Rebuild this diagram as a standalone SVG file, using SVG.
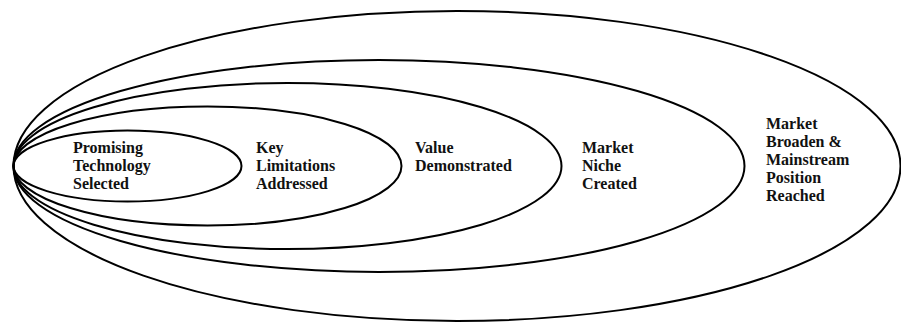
<svg xmlns="http://www.w3.org/2000/svg" width="901" height="323" viewBox="0 0 901 323">
<style>
.e{fill:none;stroke:#000;stroke-width:2}
.t{font-family:"Liberation Serif","Times New Roman",serif;font-weight:bold;font-size:16px;fill:#111}
</style>
<rect width="901" height="323" fill="#fff"/>
<g id="connectors"></g>
<g id="n5"><ellipse class="e" cx="457" cy="166" rx="443.5" ry="155"/>
<text class="t" x="766"><tspan x="766" y="129">Market</tspan><tspan x="766" y="147">Broaden &amp;</tspan><tspan x="766" y="165">Mainstream</tspan><tspan x="766" y="183">Position</tspan><tspan x="766" y="201">Reached</tspan></text></g>
<g id="n4"><ellipse class="e" cx="379" cy="166" rx="365.5" ry="106"/>
<text class="t"><tspan x="582" y="153">Market</tspan><tspan x="582" y="171">Niche</tspan><tspan x="582" y="189">Created</tspan></text></g>
<g id="n3"><ellipse class="e" cx="287.5" cy="166" rx="274" ry="83"/>
<text class="t"><tspan x="415" y="153">Value</tspan><tspan x="415" y="171">Demonstrated</tspan></text></g>
<g id="n2"><ellipse class="e" cx="207.5" cy="166" rx="194" ry="59.5"/>
<text class="t"><tspan x="256" y="153">Key</tspan><tspan x="256" y="171">Limitations</tspan><tspan x="256" y="189">Addressed</tspan></text></g>
<g id="n1"><ellipse class="e" cx="127.5" cy="166" rx="114" ry="35.5"/>
<text class="t"><tspan x="73" y="153">Promising</tspan><tspan x="73" y="171">Technology</tspan><tspan x="73" y="189">Selected</tspan></text></g>
</svg>
